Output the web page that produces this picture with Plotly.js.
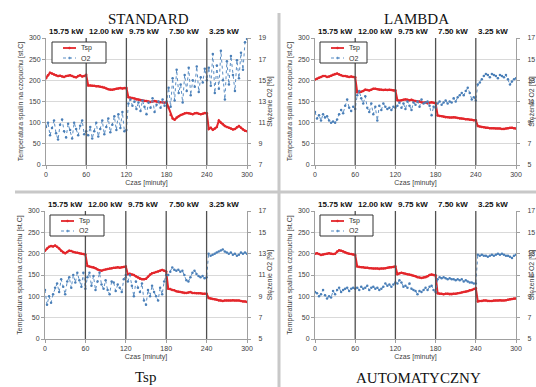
<!DOCTYPE html>
<html><head><meta charset="utf-8">
<script src="https://cdn.plot.ly/plotly-3.0.1.min.js"></script>
<style>html,body{margin:0;padding:0;background:#fff}#c{width:536px;height:387px}</style>
</head><body><div id="c"></div>
<script>
const time = [0,3,6,9,12,15,18,21,24,27,30,33,36,39,42,45,48,51,54,57,60,63,66,69,72,75,78,81,84,87,90,93,96,99,102,105,108,111,114,117,120,123,126,129,132,135,138,141,144,147,150,153,156,159,162,165,168,171,174,177,180,183,186,189,192,195,198,201,204,207,210,213,216,219,222,225,228,231,234,237,240,243,246,249,252,255,258,261,264,267,270,273,276,279,282,285,288,291,294,297,300];

const stdTsp = [205,212,218,216,214,212,210,211,209,208,210,211,212,210,208,207,210,212,209,210,213,
 188,188,187,187,186,186,185,184,183,181,179,178,178,179,180,181,182,181,182,182,
 160,159,158,157,155,154,153,152,151,151,150,149,150,151,150,149,148,148,147,148,
 135,118,110,107,112,115,118,120,122,123,122,121,120,122,123,121,120,121,123,122,
 85,88,83,86,90,105,100,96,92,90,88,86,84,85,89,92,88,84,81,80];
const stdO2 = [10.6,11.0,9.8,10.5,11.2,10.0,9.4,10.8,11.3,10.2,9.6,10.9,10.3,9.5,11.0,10.4,9.8,10.7,11.2,9.9,10.2,
 9.8,10.6,9.5,10.2,11.0,9.7,10.4,11.2,9.9,10.6,11.4,10.1,10.8,11.6,10.3,11.8,10.5,12.0,10.2,10.3,
 12.8,13.2,12.6,13.0,12.3,12.9,12.1,13.1,12.5,11.8,12.9,12.4,13.3,12.0,12.7,13.0,12.4,13.2,12.6,13.0,
 14.3,12.5,15.2,13.1,16.0,13.8,14.6,12.9,15.5,14.0,16.2,13.6,15.0,14.4,16.3,13.9,15.3,14.8,16.1,15.0,
 16.2,14.5,17.5,13.8,16.4,14.2,17.8,15.0,13.2,16.8,14.6,17.3,15.5,14.0,16.9,15.2,17.6,16.0,18.6,18.9];

const lamTsp = [202,204,206,208,210,210,208,209,211,213,215,216,214,212,210,210,209,208,209,208,207,
 172,172,173,175,178,177,176,178,180,180,179,178,178,177,178,177,178,177,176,176,
 153,152,153,154,155,154,153,154,152,151,150,150,148,147,148,146,147,148,147,146,
 117,116,115,114,113,113,112,112,113,112,111,110,110,109,108,108,107,107,106,106,
 92,91,90,89,88,88,87,87,87,86,86,86,85,85,86,87,88,88,87,86];
const lamO2 = [10.0,9.4,9.7,9.2,9.8,9.5,9.6,9.2,9.0,9.1,9.0,9.3,9.8,10.2,9.9,10.6,11.2,10.4,10.1,10.5,10.3,
 11.6,12.0,11.3,10.8,11.5,10.4,10.0,10.8,9.8,10.5,9.2,10.6,10.2,10.8,10.5,10.3,10.4,10.2,10.5,10.4,
 10.6,10.9,10.4,10.8,10.3,11.0,10.6,10.2,10.9,10.7,11.0,10.5,11.2,10.8,10.9,11.0,10.6,9.7,10.5,10.4,
 10.8,11.0,10.7,10.9,11.1,10.8,11.0,10.9,11.3,11.0,11.4,11.6,11.8,11.6,12.0,12.3,11.8,11.2,11.4,11.1,
 12.6,12.8,13.1,13.4,13.6,13.5,13.3,13.6,13.5,13.4,13.2,13.5,13.4,13.3,13.5,13.1,12.6,12.9,13.1,13.2];

const tspTsp = [207,212,216,218,217,219,216,212,207,203,201,204,207,206,204,203,202,201,200,199,198,
 171,170,169,168,166,163,161,160,162,163,164,165,166,167,167,168,167,168,169,170,
 152,153,151,150,147,144,141,140,140,141,146,151,154,155,157,158,160,162,160,158,
 118,117,115,114,112,111,110,109,108,108,109,110,108,108,107,107,107,106,106,106,
 96,95,94,93,92,90,90,89,90,90,90,90,91,90,90,90,89,88,88,87];
const tspO2 = [9.6,8.2,9.0,8.4,9.2,9.8,10.2,9.4,10.6,9.9,9.2,10.4,10.8,9.8,11.0,10.3,11.2,10.5,9.9,11.2,9.7,
 10.8,11.2,10.0,10.9,9.6,10.4,11.2,10.1,9.7,10.5,9.6,9.2,10.4,10.3,9.5,10.1,9.8,9.4,10.6,11.0,
 10.4,11.0,10.0,9.0,10.4,9.8,9.4,10.2,8.6,8.2,9.6,9.0,10.0,9.4,9.0,8.6,9.8,9.2,10.4,11.0,
 11.0,11.3,11.7,11.5,11.4,11.5,11.3,11.4,11.0,10.5,10.4,10.8,11.2,11.4,11.1,10.9,10.8,10.9,10.7,10.8,
 13.0,12.8,12.9,13.0,13.1,13.2,13.3,13.4,13.2,13.1,13.0,13.1,12.9,13.0,12.8,12.9,13.1,13.0,13.1,13.0];

const autTsp = [200,201,199,197,198,199,200,201,200,199,200,205,208,207,205,203,201,200,199,198,197,
 170,169,168,168,167,167,166,166,165,165,165,164,165,165,166,167,168,168,169,170,
 152,154,155,154,153,152,151,150,148,147,145,144,143,144,145,147,150,151,150,149,
 107,106,106,105,106,106,105,105,106,106,107,108,109,110,111,112,114,115,117,119,
 88,89,89,90,90,89,89,89,90,90,90,91,90,90,91,92,93,94,95,95];
const autO2 = [9.4,9.3,9.0,9.2,9.6,9.1,8.8,9.0,8.9,9.5,9.2,9.6,9.8,9.4,9.6,9.7,9.8,9.5,9.7,9.8,9.7,
 9.8,9.6,9.9,9.7,9.8,10.0,9.6,9.8,9.9,9.7,9.8,9.6,9.7,9.9,10.2,10.0,10.1,9.9,10.1,10.3,
 10.2,10.5,10.3,9.9,10.0,9.8,10.2,9.7,9.6,9.5,9.2,9.5,9.4,9.6,9.8,9.6,9.9,10.0,9.6,9.4,
 10.6,10.8,10.7,10.8,10.7,10.6,10.7,10.6,10.6,10.5,10.6,10.5,10.6,10.4,10.5,10.4,10.3,10.3,10.2,10.2,
 12.9,12.8,12.9,12.8,12.8,12.7,12.8,12.9,12.8,12.9,13.0,12.9,13.0,12.9,12.8,12.8,12.7,12.6,12.8,12.9];

const kwLabels = ['15.75 kW','12.00 kW','9.75 kW','7.50 kW','3.25 kW'];
const kwStarts = [0,60,120,180,240];
const panelTitles = ['STANDARD','LAMBDA','Tsp','AUTOMATYCZNY'];
const o2Ranges = [[7,19],[5,17],[5,17],[5,17]];
const seriesNames = ['Tsp','O2'];

const W=536,H=387;
const RED='#e3262b', BLUE='#5b8ec4';
const panels = [
  {tsp:stdTsp,o2:stdO2,x0:46,x1:247,yt:38,yb:165,title:{x:148,y:19},leg:{x:52,y:42,w:54}},
  {tsp:lamTsp,o2:lamO2,x0:315,x1:516,yt:38,yb:165,title:{x:416,y:19},leg:{x:320,y:42,w:47}},
  {tsp:tspTsp,o2:tspO2,x0:45,x1:247,yt:211,yb:339,title:{x:145,y:377},leg:{x:50,y:215,w:54}},
  {tsp:autTsp,o2:autO2,x0:315,x1:516,yt:211,yb:339,title:{x:418,y:378},leg:{x:320,y:215,w:53}}
];

const FAM='Liberation Sans, Arial, sans-serif';
const tickFont={family:FAM,size:7,color:'#404040'};
const titleFont={family:FAM,size:7,color:'#404040'};
const data=[]; const layout={
  width:W,height:H,margin:{l:0,r:0,t:0,b:0},paper_bgcolor:'#fff',plot_bgcolor:'#fff',
  showlegend:false,annotations:[],shapes:[]
};
const px=v=>v/W, py=v=>1-v/H;
panels.forEach((p,i)=>{
  const n=i+1;
  const xa = n===1?'x':'x'+n;
  const yl = 'y'+(n===1?'':(2*n-1));
  const yr = 'y'+(2*n);
  const xKey = n===1?'xaxis':'xaxis'+n;
  const ylKey = n===1?'yaxis':'yaxis'+(2*n-1);
  const yrKey = 'yaxis'+(2*n);
  data.push({x:time,y:p.tsp,xaxis:xa,yaxis:yl,name:seriesNames[0],type:'scatter',mode:'lines+markers',
    line:{color:RED,width:2},marker:{color:RED,size:2.5}});
  data.push({x:time,y:p.o2,xaxis:xa,yaxis:yr,name:seriesNames[1],type:'scatter',mode:'lines+markers',
    line:{color:BLUE,width:1,dash:'dot'},marker:{color:'#4a7fb8',size:2.5}});
  const dx=[px(p.x0),px(p.x1)], dy=[py(p.yb),py(p.yt)];
  layout[xKey]={domain:dx,anchor:yl,range:[0,300],tickvals:[0,60,120,180,240,300],
    showgrid:false,zeroline:false,showline:true,linecolor:'#a0a0a0',linewidth:1,ticks:'outside',ticklen:3,tickcolor:'#a0a0a0',
    tickfont:tickFont,title:{text:'Czas [minuty]',font:titleFont,standoff:2}};
  layout[ylKey]={domain:dy,anchor:xa,range:[0,300],dtick:50,showgrid:true,gridcolor:'#d9d9d9',gridwidth:1,
    zeroline:false,showline:true,linecolor:'#a0a0a0',ticks:'outside',ticklen:3,tickcolor:'#a0a0a0',
    tickfont:tickFont,title:{text:'Temperatura spalin na czopuchu [st.C]',font:titleFont,standoff:4}};
  layout[yrKey]={domain:dy,anchor:xa,overlaying:yl,side:'right',range:o2Ranges[i],tick0:1,dtick:2,showgrid:false,zeroline:false,
    showline:true,linecolor:'#a0a0a0',ticks:'outside',ticklen:3,tickcolor:'#a0a0a0',ticklabelstandoff:6,
    tickfont:tickFont,title:{text:'Stężenie O2 [%]',font:titleFont,standoff:1}};
  // vertical period lines
  [60,120,180,240].forEach(v=>layout.shapes.push({type:'line',xref:xa,yref:yl+' domain',x0:v,x1:v,y0:0,y1:1,
    line:{color:'#505050',width:1.3}}));
  kwLabels.forEach((t,k)=>layout.annotations.push({text:'<b>'+t+'</b>',xref:xa,yref:yl+' domain',x:kwStarts[k]+1,y:1,
    xanchor:'left',yanchor:'bottom',yshift:0,showarrow:false,font:{family:FAM,size:8,color:'#111'}}));
  layout.annotations.push({text:panelTitles[i],xref:'paper',yref:'paper',x:px(p.title.x),y:py(p.title.y),xanchor:'center',yanchor:'middle',
    showarrow:false,font:{family:'Liberation Serif, Times New Roman, serif',size:15,color:'#111'}});
  // legend box (drawn)
  const L=p.leg;
  layout.shapes.push({type:'rect',xref:'paper',yref:'paper',x0:px(L.x),x1:px(L.x+L.w),y0:py(L.y+21),y1:py(L.y),
    line:{color:'#333',width:1},fillcolor:'#fff',layer:'above'});
  const rows=[{c:RED,w:1.8,d:'solid',yy:L.y+6},{c:BLUE,w:1,d:'dot',yy:L.y+16}];
  rows.forEach((r,k)=>{
    layout.shapes.push({type:'line',xref:'paper',yref:'paper',x0:px(L.x+11),x1:px(L.x+24),y0:py(r.yy),y1:py(r.yy),
      line:{color:r.c,width:r.w,dash:r.d},layer:'above'});
    layout.shapes.push({type:'circle',xref:'paper',yref:'paper',x0:px(L.x+16.5),x1:px(L.x+18.5),y0:py(r.yy+1),y1:py(r.yy-1),
      line:{color:r.c,width:0.5},fillcolor:r.c,layer:'above'});
    layout.annotations.push({text:seriesNames[k],xref:'paper',yref:'paper',x:px(L.x+27),y:py(r.yy),xanchor:'left',yanchor:'middle',
      showarrow:false,font:{family:FAM,size:7,color:'#333'}});
  });
});
// separators
layout.shapes.push({type:'line',xref:'paper',yref:'paper',x0:15/W,x1:1,y0:py(192),y1:py(192),line:{color:'#c8c8c8',width:3}});
layout.shapes.push({type:'line',xref:'paper',yref:'paper',x0:px(279),x1:px(279),y0:0,y1:py(13),line:{color:'#c8c8c8',width:3}});
Plotly.newPlot('c',data,layout,{staticPlot:true,displayModeBar:false});
</script></body></html>
